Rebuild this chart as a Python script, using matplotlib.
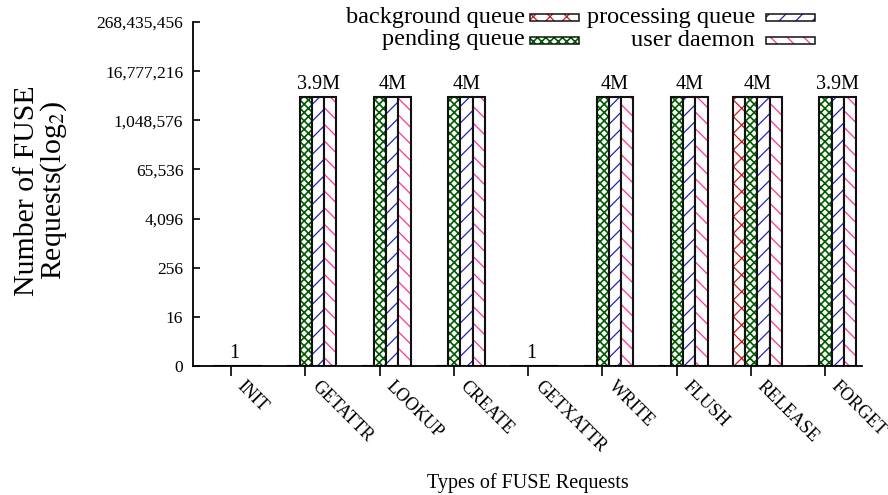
import numpy as np
import matplotlib
matplotlib.use("Agg")
import matplotlib.pyplot as plt
from matplotlib.patches import Rectangle
from matplotlib.ticker import FixedLocator, FuncFormatter

plt.rcParams['font.family'] = ['Liberation Serif', 'DejaVu Serif']
plt.rcParams['mathtext.fontset'] = 'stix'

categories = ["INIT", "GETATTR", "LOOKUP", "CREATE", "GETXATTR",
              "WRITE", "FLUSH", "RELEASE", "FORGET"]
series_names = ["background queue", "pending queue", "processing queue", "user daemon"]
background = [1, 1, 1, 1, 1, 1, 1, 4.0e6, 1]
pending    = [1, 3.9e6, 4.0e6, 4.0e6, 1, 4.0e6, 4.0e6, 4.0e6, 3.9e6]
processing = [1, 3.9e6, 4.0e6, 4.0e6, 1, 4.0e6, 4.0e6, 4.0e6, 3.9e6]
daemon     = [1, 3.9e6, 4.0e6, 4.0e6, 1, 4.0e6, 4.0e6, 4.0e6, 3.9e6]
value_labels = ["1", "3.9M", "4M", "4M", "1", "4M", "4M", "4M", "3.9M"]

series = [background, pending, processing, daemon]
colors = ["#c82020", "#005a00", "#2222bb", "#ff3399"]
hatches = ["xx", "xxxx", "//", "\\\\"]
hatch_lw = [0.9, 1.2, 0.9, 0.9]

fig = plt.figure(figsize=(8.88, 4.95), dpi=100)
ax = fig.add_axes([193/888, 1-366/495, (862-193)/888, (366-22)/495])

x = np.arange(len(categories))
w = 0.165
shift = 0.09


def hatched(patch, i):
    if hasattr(patch, "set_hatch_linewidth"):
        patch.set_hatch_linewidth(hatch_lw[i])


for i, vals in enumerate(series):
    v = np.array(vals, dtype=float)
    left = x + shift + (i - 2) * w
    with plt.rc_context({'hatch.linewidth': hatch_lw[i]}):
        bars = ax.bar(left, v - 1, bottom=1, width=w, align='edge',
                      facecolor='white', edgecolor=colors[i], linewidth=0,
                      hatch=hatches[i])
        for b in bars:
            hatched(b, i)
    ax.bar(left, v - 1, bottom=1, width=w, align='edge', fill=False,
           edgecolor='#111111', linewidth=1.5)

# value labels above each group
all_vals = np.array(series, dtype=float)
for j in range(len(categories)):
    idx = [i for i in range(len(series)) if all_vals[i, j] > 1]
    if idx:
        lo = x[j] + shift + (min(idx) - 2) * w
        hi = x[j] + shift + (max(idx) - 1) * w
        cx = (lo + hi) / 2
    else:
        cx = x[j] + 0.05
    top = all_vals[:, j].max()
    ax.annotate(value_labels[j], (cx, top), xytext=(0, 5.5),
                textcoords='offset points', ha='center', va='baseline',
                fontsize=14.5)

ax.set_yscale('log', base=2)
ax.set_ylim(1, 2**28)
ax.set_xlim(-0.512, 8.498)
yt = [2**k for k in range(0, 29, 4)]
ax.yaxis.set_major_locator(FixedLocator(yt))
ax.yaxis.set_minor_locator(FixedLocator([]))
ax.yaxis.set_major_formatter(FuncFormatter(lambda v, p: "0" if v <= 1 else f"{int(round(v)):,}"))

# category ticks; rotated labels placed just right of each tick
ax.set_xticks(x)
ax.set_xticklabels([])
for j, cat in enumerate(categories):
    ax.annotate(cat, (x[j], 0), xycoords=ax.get_xaxis_transform(),
                xytext=(6.5, -13), textcoords='offset points',
                rotation=-45, rotation_mode='anchor', ha='left', va='center',
                fontsize=13)
ax.tick_params(axis='x', direction='out', length=7, width=1.2)
ax.tick_params(axis='y', direction='in', length=5, width=1.2, pad=7, labelsize=12.5)

for s in ['top', 'right']:
    ax.spines[s].set_visible(False)
for s in ['left', 'bottom']:
    ax.spines[s].set_linewidth(1.3)

ax.set_ylabel("Number of FUSE\nRequests(log$_2$)", fontsize=21.5, linespacing=0.95)
ax.yaxis.set_label_coords(-0.185, 0.51)
ax.set_xlabel("Types of FUSE Requests", fontsize=14.5)
ax.xaxis.set_label_coords(0.5, -0.31)

# legend in gnuplot style: text, then swatch
legend_slots = [(525, 530, 17), (525, 530, 40), (755, 766, 17), (755, 766, 40)]
for i, name in enumerate(series_names):
    tx, sx, yy = legend_slots[i]
    fig.text(tx/888, 1 - yy/495, name, ha='right', va='center', fontsize=17.5)
    with plt.rc_context({'hatch.linewidth': hatch_lw[i]}):
        r = Rectangle((sx/888, 1 - (yy + 3.5)/495), 49/888, 7/495,
                      transform=fig.transFigure, facecolor='white',
                      edgecolor=colors[i], linewidth=0, hatch=hatches[i])
        hatched(r, i)
        fig.patches.append(r)
    fig.patches.append(Rectangle((sx/888, 1 - (yy + 3.5)/495), 49/888, 7/495,
                                 transform=fig.transFigure, fill=False,
                                 edgecolor='#111111', linewidth=1.1))

fig.savefig("out.png", dpi=100)
